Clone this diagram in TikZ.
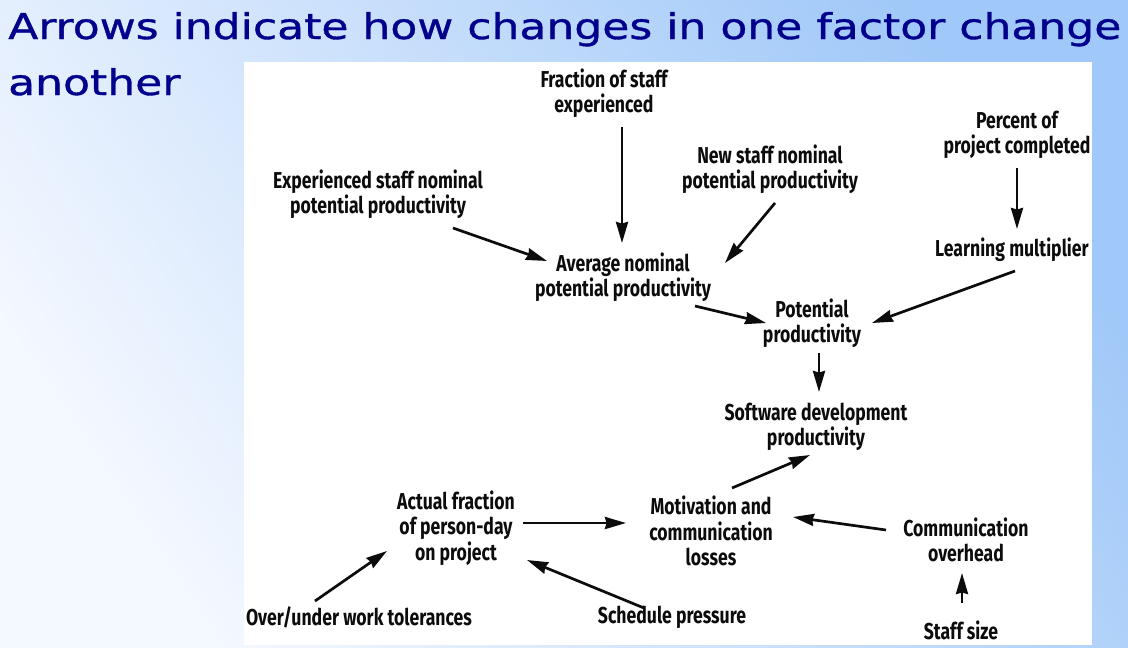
\documentclass[tikz,border=0pt]{standalone}
\usepackage{fontspec}
\usetikzlibrary{calc,arrows.meta}
\newfontfamily\titlefont[FakeStretch=1.24,FakeBold=1]{DejaVu Sans}
\newfontfamily\handfont[FakeStretch=0.766]{Fira Sans}
\definecolor{titleblue}{RGB}{0,0,140}
\definecolor{skyhi}{RGB}{160,200,248}
\definecolor{skylo}{RGB}{244,248,255}
\definecolor{ink}{RGB}{12,12,12}
\begin{document}
\begin{tikzpicture}[x=1pt,y=-1pt,
  title/.style={font=\titlefont\fontsize{35.5}{40}\selectfont, text=titleblue, inner sep=0pt, anchor=base west},
  lbl/.style={font=\handfont\bfseries\fontsize{23}{25.5}\selectfont, align=center, inner sep=0pt, text=ink},
  arr/.style={-{Stealth[length=21pt,width=12pt,inset=1.5pt]}, line width=2.7pt, draw=ink}]
\useasboundingbox (0,0) rectangle (1128,648);
% slide background
\shade[top color=skyhi, bottom color=skylo, shading angle=-56] (0,0) rectangle (1128,648);
% heading
\node[title] (t1) at (8,39) {Arrows indicate how changes in one factor change};
\node[title] (t2) at (8,95) {another};
% white panel holding the diagram
\fill[white] (244,62) rectangle (1092,645);

% factors
\node[lbl] (frac)   at (604,93)  {Fraction of staff\\experienced};
\node[lbl] (exp)    at (378,194) {Experienced staff nominal\\potential productivity};
\node[lbl] (avg)    at (623,277) {Average nominal\\potential productivity};
\node[lbl] (newst)  at (770,169) {New staff nominal\\potential productivity};
\node[lbl] (pct)    at (1017,135){Percent of\\project completed};
\node[lbl] (learn)  at (1012,250){Learning multiplier};
\node[lbl] (pot)    at (812,323) {Potential\\productivity};
\node[lbl] (sdp)    at (816,427) {Software development\\productivity};
\node[lbl] (mot)    at (711,531) {Motivation and\\communication\\losses};
\node[lbl] (comm)   at (966,540) {Communication\\overhead};
\node[lbl] (staff)  at (961,630) {Staff size};
\node[lbl] (act)    at (456,528) {Actual fraction\\of person-day\\on project};
\node[lbl] (over)   at (359,617) {Over/under work tolerances};
\node[lbl] (sched)  at (672,617) {Schedule pressure};

% influences
\draw[arr] ($(frac)+(18,34)$)  -- ($(avg)+(-1,-34)$);
\draw[arr] ($(exp)+(75,34)$)   -- ($(avg)+(-76,-16)$);
\draw[arr] ($(newst)+(5,34)$)  -- ($(avg)+(102,-14)$);
\draw[arr] ($(pct)+(0,33)$)    -- ($(learn)+(5,-21)$);
\draw[arr] ($(learn)+(3,21)$)  -- ($(pot)+(60,0)$);
\draw[arr] ($(avg)+(72,29)$)   -- ($(pot)+(-46,0)$);
\draw[arr] ($(pot)+(7,30)$)    -- ($(sdp)+(3,-35)$);
\draw[arr] ($(mot)+(21,-43)$)  -- ($(sdp)+(-6,28)$);
\draw[arr] ($(comm)+(-80,-10)$)-- ($(mot)+(82,-14)$);
\draw[arr] ($(staff)+(1,-27)$) -- ($(comm)+(-4,33)$);
\draw[arr] ($(act)+(67,-5)$)   -- ($(mot)+(-85,-8)$);
\draw[arr] ($(over)+(-44,-16)$)-- ($(act)+(-69,23)$);
\draw[arr] ($(sched)+(-28,-9)$)-- ($(act)+(71,32)$);
\end{tikzpicture}
\end{document}
